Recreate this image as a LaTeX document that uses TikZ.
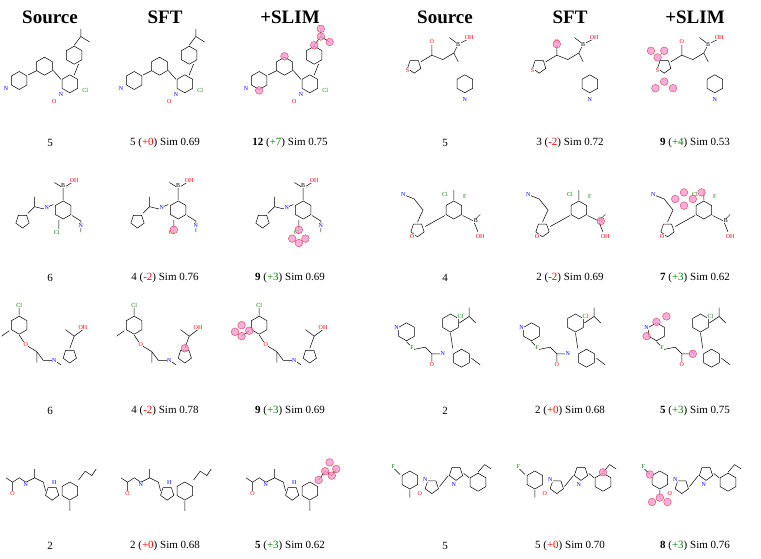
\documentclass[tikz,border=0pt]{standalone}
\usepackage{fontspec}
\setmainfont{Liberation Serif}
\newcommand{\msc}{1.1}
\begin{document}
\begin{tikzpicture}[x=1pt,y=-1pt,line width=0.5pt,
  hdr/.style={font=\bfseries\fontsize{19}{22}\selectfont},
  captxt/.style={font=\fontsize{11}{13}\selectfont},
  atm/.style={font=\fontsize{6}{6}\selectfont,inner sep=0.5pt,fill=white},
  hl/.style={fill=magenta!40,draw=red!80!black,line width=0.3pt,opacity=0.8},
  ring/.pic={\draw (30:9)--(90:9)--(150:9)--(210:9)--(270:9)--(330:9)--cycle;},
  pent/.pic={\draw (90:7)--(162:7)--(234:7)--(306:7)--(18:7)--cycle;}]
\useasboundingbox (0,0) rectangle (761,559);
\foreach \x/\t [count=\i] in {50/Source,165/SFT,290/+SLIM,445/Source,570/SFT,695/+SLIM}
  \node[hdr] (h\i) at (\x,17) {\t};
\newcommand{\molA}[1]{\begin{scope}[shift={#1},scale=\msc]
 \pic at (-28,5) {ring}; \pic at (-5,-8) {ring}; \pic at (18,8) {ring}; \pic at (22,-18) {ring};
 \draw (-20,0)--(-12,-4) (3,-4)--(10,4) (26,-10)--(22,0) (22,-27)--(28,-35)--(36,-30) (28,-35)--(28,-42);
 \node[atm,text=blue] at (-40,12) {N}; \node[atm,text=blue] at (10,18) {N}; \node[atm,text=green!50!black] at (32,14) {Cl}; \node[atm,text=red] at (4,24) {O};
 \end{scope}}
\newcommand{\molB}[1]{\begin{scope}[shift={#1},scale=\msc]
 \pic at (-25,10) {pent}; \pic at (12,0) {ring};
 \draw (-20,3)--(-14,-3)--(-6,-1)--(3,-5) (-14,-3)--(-14,-12) (12,-9)--(12,-20)--(20,-25) (12,-20)--(4,-25) (20,5)--(28,10)--(28,20) (8,9)--(8,18);
 \node[atm,text=blue] at (-3,-2) {N}; \node[atm,text=red] at (22,-27) {OH}; \node[atm] at (12,-22) {B}; \node[atm,text=green!50!black] at (6,20) {Cl}; \node[atm,text=blue] at (28,14) {N};
 \end{scope}}
\newcommand{\molC}[1]{\begin{scope}[shift={#1},scale=\msc]
 \pic at (-28,-18) {ring}; \pic at (18,10) {pent};
 \draw (-28,-9)--(-22,0)--(-12,6)--(-6,14)--(4,14)--(10,18) (-12,6)--(-12,16) (-37,-13)--(-44,-8) (-28,-27)--(-28,-34) (18,3)--(22,-8)--(30,-14) (22,-8)--(14,-14);
 \node[atm,text=red] at (-22,0) {O}; \node[atm,text=blue] at (4,14) {N}; \node[atm,text=green!50!black] at (-28,-36) {Cl}; \node[atm,text=red] at (30,-16) {OH};
 \end{scope}}
\newcommand{\molD}[1]{\begin{scope}[shift={#1},scale=\msc]
 \pic at (18,10) {ring}; \pic at (2,12) {pent};
 \draw (-40,-2)--(-34,2)--(-28,-2)--(-22,2)--(-14,-2)--(-6,2)--(-4,10) (-34,2)--(-34,10) (-14,-2)--(-14,-10) (26,0)--(32,-8)--(38,-4)--(42,-10) (18,19)--(18,28);
 \node[atm,text=red] at (-34,12) {O}; \node[atm,text=blue] at (-22,4) {N}; \node[atm,text=blue] at (4,2) {H};
 \end{scope}}
\newcommand{\molE}[1]{\begin{scope}[shift={#1},scale=\msc]
 \pic at (-28,-8) {pent}; \pic at (18,8) {ring};
 \draw (-22,-12)--(-12,-18)--(-2,-14) (-12,-18)--(-12,-28) (-2,-14)--(8,-20)--(12,-12) (8,-20)--(12,-28)--(20,-32) (12,-28)--(4,-34);
 \node[atm,text=red] at (-12,-30) {O}; \node[atm] at (12,-28) {B}; \node[atm,text=red] at (22,-34) {OH}; \node[atm,text=blue] at (18,22) {N}; \node[atm,text=red] at (-34,-4) {S};
 \end{scope}}
\newcommand{\molF}[1]{\begin{scope}[shift={#1},scale=\msc]
 \pic at (-25,18) {pent}; \pic at (8,0) {ring};
 \draw (-25,11)--(-20,0)--(-28,-10)--(-38,-14) (-18,15)--(0,5) (8,-9)--(8,-18) (16,5)--(26,10)--(32,4) (26,10)--(30,20);
 \node[atm,text=blue] at (-38,-14) {N}; \node[atm,text=red] at (-30,24) {O}; \node[atm,text=green!50!black] at (0,-14) {Cl}; \node[atm,text=green!50!black] at (18,-12) {F}; \node[atm] at (28,10) {B}; \node[atm,text=red] at (32,24) {OH};
 \end{scope}}
\newcommand{\molG}[1]{\begin{scope}[shift={#1},scale=\msc]
 \pic at (-35,-12) {ring}; \pic at (5,-20) {ring}; \pic at (15,12) {ring};
 \draw (-35,-3)--(-28,4)--(-18,2)--(-12,8)--(-2,8) (-12,8)--(-12,16) (5,-11)--(7,3) (13,-20)--(22,-26)--(28,-20) (22,-26)--(22,-34) (24,12)--(32,18);
 \node[atm,text=blue] at (-44,-16) {N}; \node[atm,text=green!50!black] at (-30,2) {F}; \node[atm,text=red] at (-12,18) {O}; \node[atm,text=blue] at (-2,8) {N}; \node[atm,text=green!50!black] at (14,-26) {Cl};
 \end{scope}}
\newcommand{\molH}[1]{\begin{scope}[shift={#1},scale=\msc]
 \pic at (-32,0) {ring}; \pic at (-12,6) {pent}; \pic at (10,-6) {pent}; \pic at (30,2) {ring};
 \draw (-41,-5)--(-46,-10) (-32,9)--(-32,16) (-5,6)--(3,-4) (17,-6)--(22,-2) (30,-7)--(36,-14)--(42,-10);
 \node[atm,text=green!50!black] at (-47,-12) {F}; \node[atm,text=blue] at (-18,0) {N}; \node[atm,text=blue] at (8,4) {N}; \node[atm,text=red] at (-23,12) {O};
 \end{scope}}
\newcommand{\hlat}[2]{\begin{scope}[shift={#1},scale=\msc]\foreach \p in {#2} \fill[hl] (\p) circle (3.5);\end{scope}}
\molA{(50,75)} \molA{(165,75)} \molA{(290,75)}
\hlat{(290,75)}{{28,-35},{36,-30},{28,-42},{22,-27},{-5,-17},{-28,14}}
\molE{(445,75)} \molE{(570,75)} \molE{(695,75)}
\hlat{(570,75)}{{-12,-28}}
\hlat{(695,75)}{{-34,-16},{-40,-22},{-28,-22},{-28,6},{-36,12},{-20,12}}
\molB{(50,210)} \molB{(165,210)} \molB{(290,210)}
\hlat{(165,210)}{{8,18}}
\hlat{(290,210)}{{8,18},{2,26},{14,26},{8,30}}
\molF{(445,210)} \molF{(570,210)} \molF{(695,210)}
\hlat{(570,210)}{{28,10}}
\hlat{(695,210)}{{-2,-10},{-10,-16},{-10,-4},{6,-16},{-18,-10}}
\molC{(50,345)} \molC{(165,345)} \molC{(290,345)}
\hlat{(165,345)}{{18,3}}
\hlat{(290,345)}{{-37,-13},{-44,-8},{-44,-18},{-50,-12}}
\molG{(445,345)} \molG{(570,345)} \molG{(695,345)}
\hlat{(695,345)}{{-35,-21},{-26,-26},{-44,-8},{-2,8}}
\molD{(50,480)} \molD{(165,480)} \molD{(290,480)}
\hlat{(290,480)}{{32,-8},{38,-4},{42,-10},{26,0},{36,-16}}
\molH{(445,480)} \molH{(570,480)} \molH{(695,480)}
\hlat{(570,480)}{{30,-7}}
\hlat{(695,480)}{{-32,16},{-39,20},{-25,20},{-41,-5}}
\newcommand{\rd}[1]{(\textcolor{red}{#1})}
\newcommand{\gr}[1]{(\textcolor{green!50!black}{#1})}
\node[captxt] (c11) at (50,143) {5};
\node[captxt] (c12) at (165,143) {5 \rd{+0} Sim 0.69};
\node[captxt] (c13) at (290,143) {\textbf{12} \gr{+7} Sim 0.75};
\node[captxt] (c14) at (445,143) {5};
\node[captxt] (c15) at (570,143) {3 \rd{-2} Sim 0.72};
\node[captxt] (c16) at (695,143) {\textbf{9} \gr{+4} Sim 0.53};
\node[captxt] (c21) at (50,278) {6};
\node[captxt] (c22) at (165,278) {4 \rd{-2} Sim 0.76};
\node[captxt] (c23) at (290,278) {\textbf{9} \gr{+3} Sim 0.69};
\node[captxt] (c24) at (445,278) {4};
\node[captxt] (c25) at (570,278) {2 \rd{-2} Sim 0.69};
\node[captxt] (c26) at (695,278) {\textbf{7} \gr{+3} Sim 0.62};
\node[captxt] (c31) at (50,411) {6};
\node[captxt] (c32) at (165,411) {4 \rd{-2} Sim 0.78};
\node[captxt] (c33) at (290,411) {\textbf{9} \gr{+3} Sim 0.69};
\node[captxt] (c34) at (445,411) {2};
\node[captxt] (c35) at (570,411) {2 \rd{+0} Sim 0.68};
\node[captxt] (c36) at (695,411) {\textbf{5} \gr{+3} Sim 0.75};
\node[captxt] (c41) at (50,546) {2};
\node[captxt] (c42) at (165,546) {2 \rd{+0} Sim 0.68};
\node[captxt] (c43) at (290,546) {\textbf{5} \gr{+3} Sim 0.62};
\node[captxt] (c44) at (445,546) {5};
\node[captxt] (c45) at (570,546) {5 \rd{+0} Sim 0.70};
\node[captxt] (c46) at (695,546) {\textbf{8} \gr{+3} Sim 0.76};
\end{tikzpicture}
\end{document}
